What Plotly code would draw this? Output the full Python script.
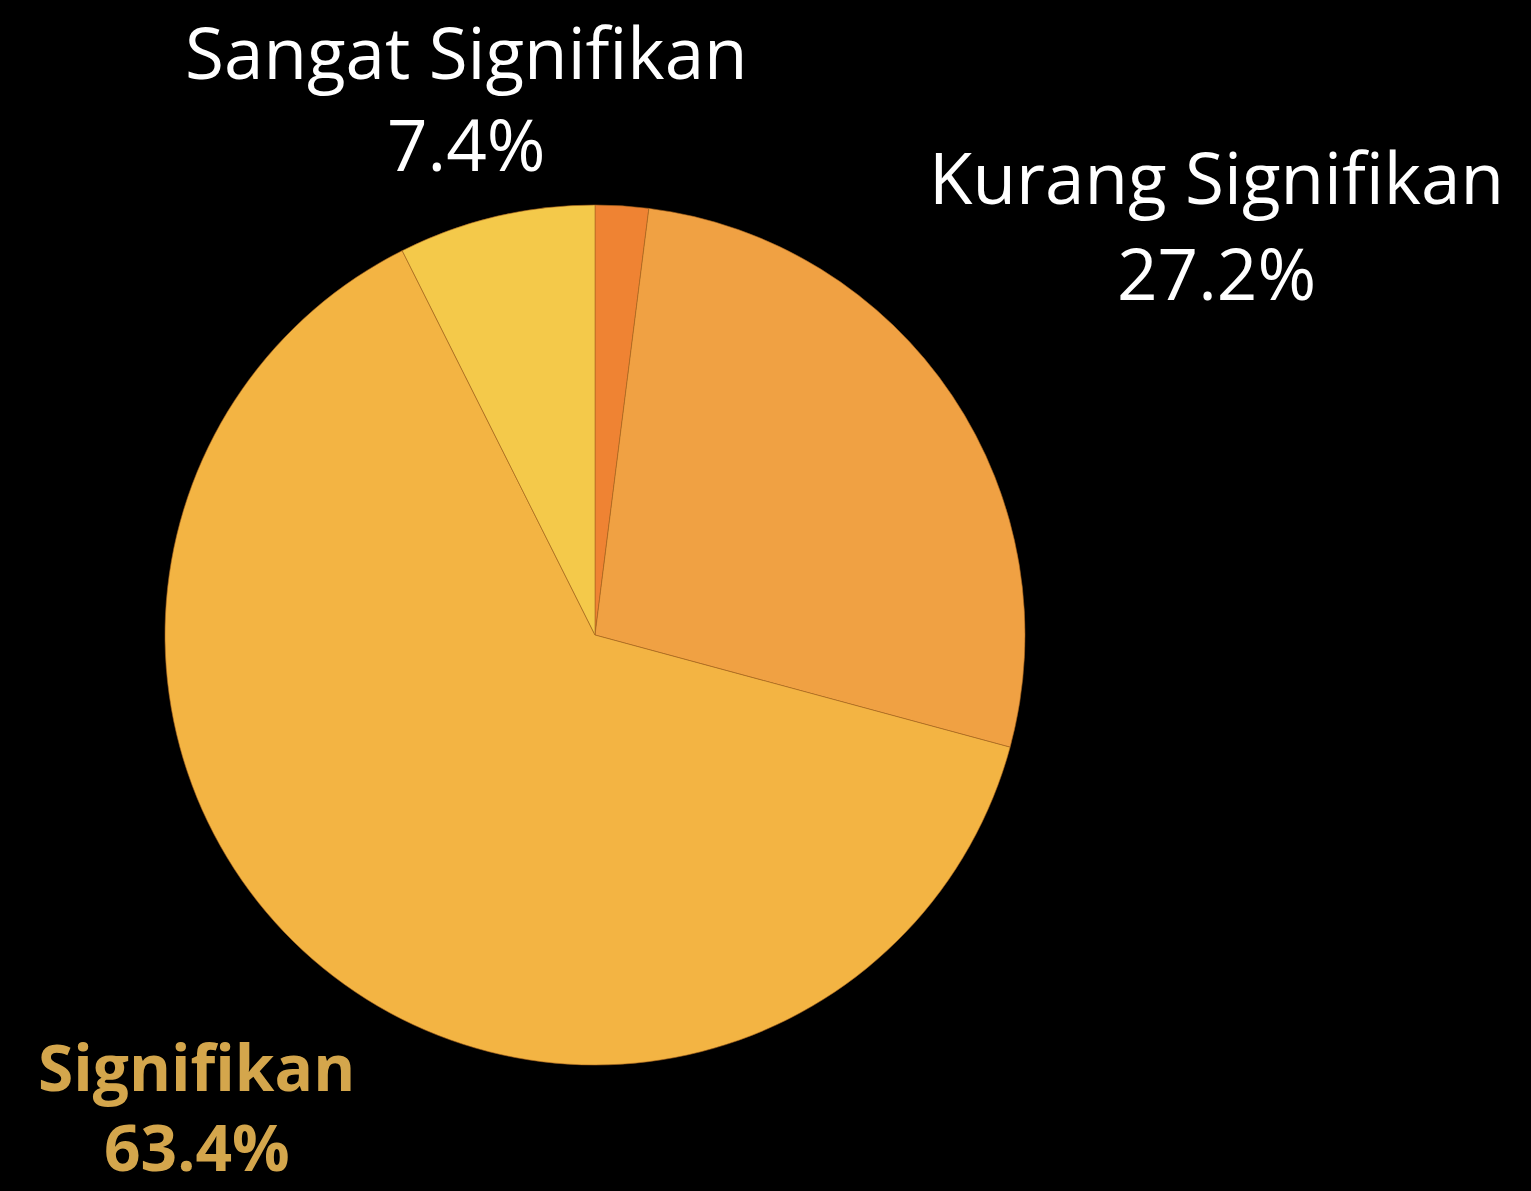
import plotly.graph_objects as go

labels = ["Lainnya", "Kurang Signifikan", "Signifikan", "Sangat Signifikan"]
values = [2.0, 27.2, 63.4, 7.4]
colors = ["#EF8333", "#F0A143", "#F3B443", "#F4C94A"]

W, H = 1531, 1191

fig = go.Figure(go.Pie(
    labels=labels, values=values, sort=False, direction="clockwise", rotation=0,
    marker=dict(colors=colors, line=dict(color="#A8651E", width=0.6)),
    textinfo="none", hoverinfo="skip", showlegend=False,
    domain=dict(x=[165 / W, 1025 / W], y=[1 - 1065 / H, 1 - 205 / H]),
))

# label positions (pixel centres) for name and percentage lines
label_pos = {
    "Sangat Signifikan": ((466, 51), (466, 143), "white", False, 71),
    "Kurang Signifikan": ((1216, 176), (1216, 272), "white", False, 71),
    "Signifikan": ((196, 1066), (197, 1146), "#D4A64C", True, 64),
}
font_family = "Open Sans, Lato, sans-serif"
for name, val in zip(labels, values):
    if name not in label_pos:
        continue
    (nx, ny), (px, py), col, bold, size = label_pos[name]
    txt_n = f"<b>{name}</b>" if bold else name
    txt_p = f"<b>{val:.1f}%</b>" if bold else f"{val:.1f}%"
    fig.add_annotation(x=nx / W, y=1 - ny / H, xref="paper", yref="paper", text=txt_n,
                       showarrow=False, xanchor="center", yanchor="middle",
                       font=dict(family=font_family, size=size, color=col))
    fig.add_annotation(x=px / W, y=1 - py / H, xref="paper", yref="paper", text=txt_p,
                       showarrow=False, xanchor="center", yanchor="middle",
                       font=dict(family=font_family, size=size, color=col))

fig.update_layout(width=W, height=H, margin=dict(l=0, r=0, t=0, b=0),
                  paper_bgcolor="black", plot_bgcolor="black")
fig.write_html("out.html", config={"displayModeBar": False})

with open("out.html", "r", encoding="utf-8") as f:
    html = f.read()
html = html.replace("<head>", "<head><style>html,body{margin:0;padding:0;background:#000;overflow:hidden}</style>", 1)
with open("out.html", "w", encoding="utf-8") as f:
    f.write(html)
